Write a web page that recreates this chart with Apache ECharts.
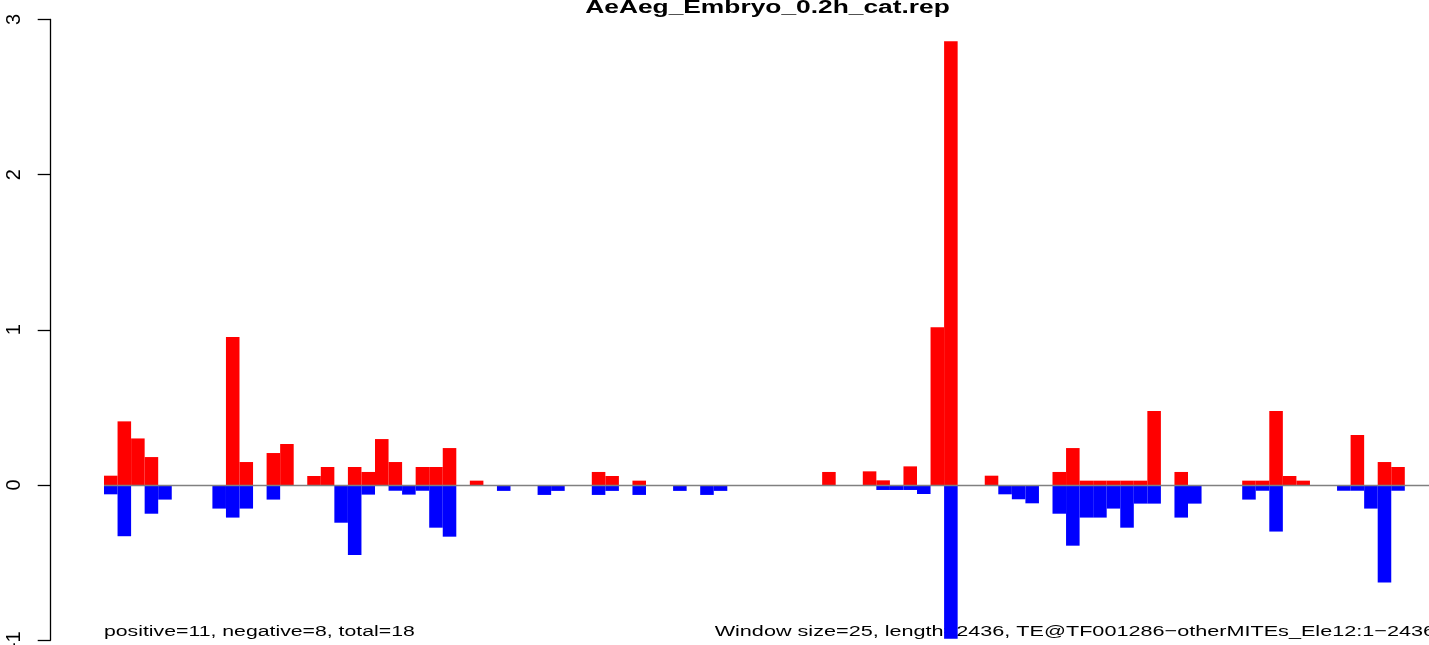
<!DOCTYPE html>
<html>
<head>
<meta charset="utf-8">
<script src="https://cdn.jsdelivr.net/npm/echarts@6/dist/echarts.min.js"></script>
<style>
html,body{margin:0;padding:0;background:#fff;}
#chart{width:1429px;height:645px;}
</style>
</head>
<body>
<div id="chart"></div>
<script>
// ---- data ----
const chartTitle = "AeAeg_Embryo_0.2h_cat.rep";
const leftNote = "positive=11, negative=8, total=18";
const rightNote = "Window size=25, length=2436, TE@TF001286\u2212otherMITEs_Ele12:1\u22122436";
const yTicks = [-1, 0, 1, 2, 3];
const binCount = 98;
// positive (sense) signal per window
const positive = [
 0.06,0.41,0.30,0.18,0,0,0,0,0,0.954,
 0.148,0,0.206,0.264,0,0.058,0.116,0,0.116,0.084,
 0.296,0.148,0,0.116,0.116,0.238,0,0.028,0,0,
 0,0,0,0,0,0,0.084,0.058,0,0.028,
 0,0,0,0,0,0,0,0,0,0,
 0,0,0,0.084,0,0,0.088,0.03,0,0.12,
 0,1.016,2.86,0,0,0.06,0,0,0,0,
 0.084,0.238,0.028,0.028,0.028,0.028,0.028,0.477,0,0.084,
 0,0,0,0,0.028,0.028,0.477,0.058,0.028,0,
 0,0,0.322,0,0.148,0.116,0,0
];
// negative (antisense) signal per window, magnitudes
const negative = [
 0.06,0.33,0,0.185,0.094,0,0,0,0.152,0.21,
 0.152,0,0.094,0,0,0,0,0.243,0.451,0.062,
 0,0.037,0.062,0.037,0.275,0.333,0,0,0,0.038,
 0,0,0.064,0.038,0,0,0.064,0.038,0,0.064,
 0,0,0.038,0,0.064,0.038,0,0,0,0,
 0,0,0,0,0,0,0,0.032,0.032,0.032,
 0.058,0,0.99,0,0,0,0.06,0.092,0.118,0,
 0.185,0.391,0.21,0.21,0.152,0.275,0.12,0.12,0,0.21,
 0.12,0,0,0,0.094,0.037,0.30,0,0,0,
 0,0.037,0.037,0.152,0.629,0.037,0,0
];
// ---- chart ----
const categories = [];
for (let i = 0; i < binCount; i++) categories.push(String(i + 1));
const negValues = negative.map(v => -v);

const FONT = "'Liberation Sans', Arial, Helvetica, sans-serif";
const SX = 1.38;
const chart = echarts.init(document.getElementById('chart'), null, {renderer: 'canvas'});
chart.setOption({
  animation: false,
  backgroundColor: '#ffffff',
  grid: {left: 104, top: 19.4, width: 1327.9, height: 620.8, containLabel: false, outerBoundsMode: 'none'},
  xAxis: {
    type: 'category', data: categories, boundaryGap: true,
    axisLine: {show: false}, axisTick: {show: false}, axisLabel: {show: false},
    splitLine: {show: false}
  },
  yAxis: {
    type: 'value', min: yTicks[0], max: yTicks[yTicks.length - 1], interval: 1,
    offset: 53.3,
    axisLine: {show: true, lineStyle: {color: '#000', width: 1.3}},
    axisTick: {show: true, length: 13, lineStyle: {color: '#000', width: 1.3}},
    axisLabel: {show: true, rotate: 90, margin: 26, color: '#000',
                textStyle: {fontSize: 20, fontFamily: FONT},
                fontSize: 20, fontFamily: FONT},
    splitLine: {show: false}
  },
  series: [
    {
      type: 'bar', data: positive, barGap: '-100%', barCategoryGap: 0,
      itemStyle: {color: '#FF0000'}, silent: true
    },
    {
      type: 'bar', data: negValues, barGap: '-100%', barCategoryGap: 0,
      itemStyle: {color: '#0000FF'}, silent: true,
      markLine: {
        silent: true, symbol: 'none', label: {show: false},
        lineStyle: {color: '#808080', width: 1.3, type: 'solid'},
        data: [{yAxis: 0}]
      }
    }
  ],
  graphic: [
    {type: 'text', x: 767.5, y: 8.2, scaleX: 1.373, silent: true,
     style: {text: chartTitle, fill: '#000', font: 'bold 19.2px ' + FONT,
             textAlign: 'center', textVerticalAlign: 'middle', align: 'center', verticalAlign: 'middle'}},
    {type: 'text', x: 104, y: 632, scaleX: SX, silent: true,
     style: {text: leftNote, fill: '#000', font: '15.4px ' + FONT,
             textAlign: 'left', textVerticalAlign: 'middle', align: 'left', verticalAlign: 'middle'}},
    {type: 'text', x: 1435, y: 632, scaleX: 1.405, silent: true,
     style: {text: rightNote, fill: '#000', font: '15.4px ' + FONT,
             textAlign: 'right', textVerticalAlign: 'middle', align: 'right', verticalAlign: 'middle'}}
  ]
});
</script>
</body>
</html>
